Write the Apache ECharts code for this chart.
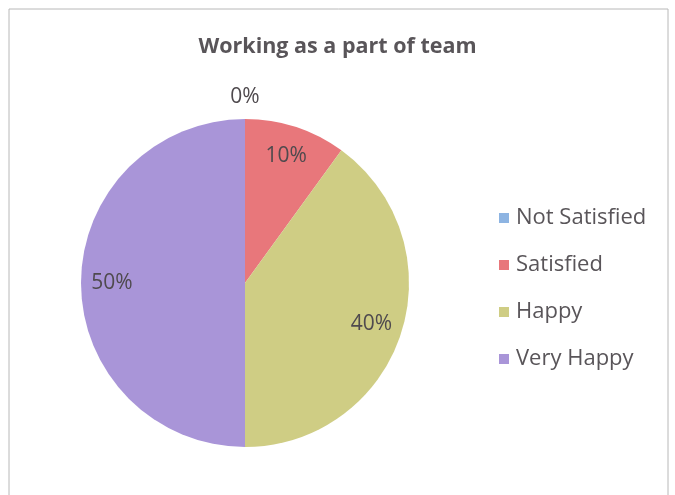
<!DOCTYPE html>
<html><head><meta charset="utf-8">
<script src="https://cdn.jsdelivr.net/npm/echarts@6/dist/echarts.min.js"></script>
<style>html,body{margin:0;padding:0;background:#fff}#c{width:675px;height:495px}</style>
</head><body><div id="c"></div>
<script>
const titleText = 'Working as a part of team';
const categories = ['Not Satisfied', 'Satisfied', 'Happy', 'Very Happy'];
const values = [0, 10, 40, 50];
const colors = ['#8DB4E2', '#E8777B', '#CFCD84', '#A995D8'];

const chart = echarts.init(document.getElementById('c'));
const font = '"Open Sans", sans-serif';
const pieData = categories.map((n, i) => ({ name: n, value: values[i], itemStyle: { color: colors[i] } }));
const labelData = categories.map((n, i) => {
  const d = { name: n, value: values[i] };
  if (values[i] === 0) d.label = { offset: [0, -53] };
  return d;
});
chart.setOption({
  animation: false,
  backgroundColor: '#fff',
  title: { text: titleText, left: 'center', top: 31, padding: [5, 0, 5, 0],
    textStyle: { fontFamily: font, fontSize: 21.5, fontWeight: 'bold', color: '#595559' } },
  legend: { orient: 'vertical', left: 494, top: 202, itemWidth: 10, itemHeight: 10, itemGap: 25,
    icon: 'rect', data: categories,
    textStyle: { fontFamily: font, fontSize: 22, color: '#595559', padding: [0,0,0,2] } },
  graphic: [{ type: 'rect', shape: { x: 9, y: 9, width: 659, height: 500 }, silent: true,
    style: { fill: 'none', stroke: '#b8b8b8', lineWidth: 1 } }],
  series: [
    { type: 'pie', center: [245, 283], radius: 164, startAngle: 90, clockwise: true,
      data: pieData, label: { show: false }, labelLine: { show: false },
      emphasis: { disabled: true } },
    { type: 'pie', center: [245, 283], radius: [100, 160], startAngle: 90, clockwise: true,
      stillShowZeroSum: true, data: labelData, legendHoverLink: false,
      itemStyle: { color: 'rgba(0,0,0,0)' },
      label: { show: true, position: 'inside', formatter: '{c}%',
        fontFamily: font, fontSize: 21, color: '#4f4a4e' },
      labelLine: { show: false }, emphasis: { disabled: true }, silent: true }
  ]
});
</script></body></html>
